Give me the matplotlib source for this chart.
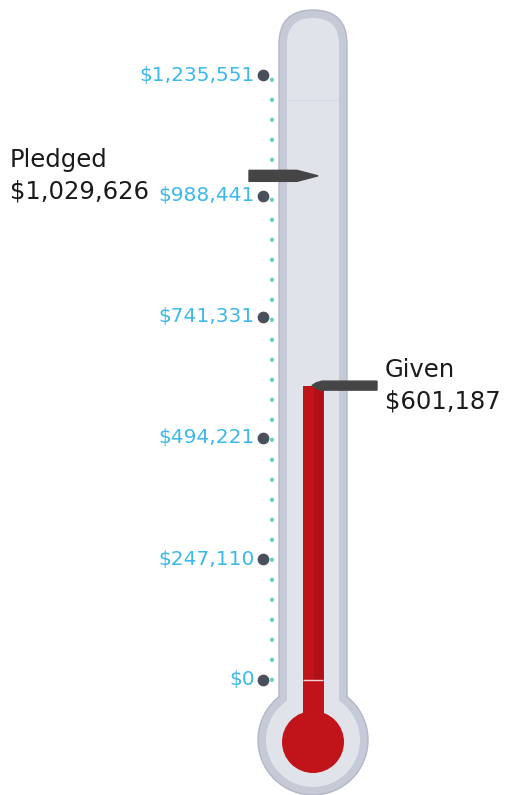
import numpy as np
import matplotlib.pyplot as plt
from matplotlib.patches import FancyBboxPatch, Circle, Rectangle

# Werte
tick_values = [0, 247110, 494221, 741331, 988441, 1235551]
tick_labels = ['$0', '$247,110', '$494,221', '$741,331', '$988,441', '$1,235,551']
pledged = 1029626
given = 601187
pledged_label = 'Pledged\n$1,029,626'
given_label = 'Given\n$601,187'

W, H = 511, 795
y0_px, ytop_px = 680, 75
per_px = tick_values[-1] / (y0_px - ytop_px)

fig = plt.figure(figsize=(5.11, 7.95), dpi=100)

# Hintergrund-Achse in Pixeln (Glasrohr)
bg = fig.add_axes([0, 0, 1, 1])
bg.set_xlim(0, W)
bg.set_ylim(H, 0)
bg.axis('off')

outer = '#c6c9d6'
inner = '#e1e3eb'
bg.add_patch(FancyBboxPatch((279, 10), 68, 720, boxstyle='round,pad=0,rounding_size=34',
                            fc=outer, ec='#b3b7c6', lw=1))
bg.add_patch(Circle((313, 740), 55, fc=outer, ec='#b3b7c6', lw=1))
# Übergang Rohr/Kolben ohne Kante
bg.add_patch(Rectangle((280, 680), 66, 40, fc=outer, ec='none'))
bg.add_patch(FancyBboxPatch((287, 18), 52, 712, boxstyle='round,pad=0,rounding_size=26',
                            fc=inner, ec='none'))
bg.add_patch(Circle((313, 740), 47, fc=inner, ec='none'))
bg.plot([288, 338], [100, 100], color='#d6d8e1', lw=1)

# Wert-Achse
ax = fig.add_axes([0, 0, 1, 1])
ax.set_xlim(0, W)
ax.set_ylim(-(H - y0_px) * per_px, y0_px * per_px)
ax.axis('off')
ax.patch.set_alpha(0)

red = '#c0141a'
stem_bottom = -(742 - y0_px) * per_px
ax.bar(313, given - stem_bottom, bottom=stem_bottom, width=21, color=red)
ax.add_patch(Rectangle((314, 0), 9, given, fc='#b01018', ec='none'))
ax.hlines(0, 303, 323, color='#f3d0d0', lw=1)
ax.add_patch(Circle((313, 742), 31, fc=red, ec='none', zorder=3,
                    transform=bg.transData))

# gepunktete Linie + Punkte
ax.plot([272, 272], [tick_values[0], tick_values[-1]], color='#62d2c9', lw=3,
        linestyle=(0, (0.1, 4.7)), dash_capstyle='round')
ax.scatter([263] * len(tick_values), tick_values, s=55, color='#4b4f5c', zorder=5)
for v, lab in zip(tick_values, tick_labels):
    ax.text(255, v, lab, ha='right', va='center', color='#3db8ea', fontsize=14.5)

# Marker Pledged
hh = 5.5 * per_px
ax.fill([249, 297, 318, 297, 249],
        [pledged + hh, pledged + hh, pledged, pledged - hh, pledged - hh],
        color='#454545', zorder=6)
ax.text(10, pledged, pledged_label, ha='left', va='center', fontsize=17.5,
        color='#1a1a1a', linespacing=1.4, zorder=7)

# Marker Given
hg = 4.5 * per_px
ax.fill([312, 316, 322, 377, 377, 320],
        [given, given + hg * 0.6, given + hg, given + hg, given - hg, given - hg],
        color='#454545', zorder=6)
ax.text(385, given, given_label, ha='left', va='center', fontsize=17.5,
        color='#1a1a1a', linespacing=1.4)

plt.savefig('out.png', dpi=100)
